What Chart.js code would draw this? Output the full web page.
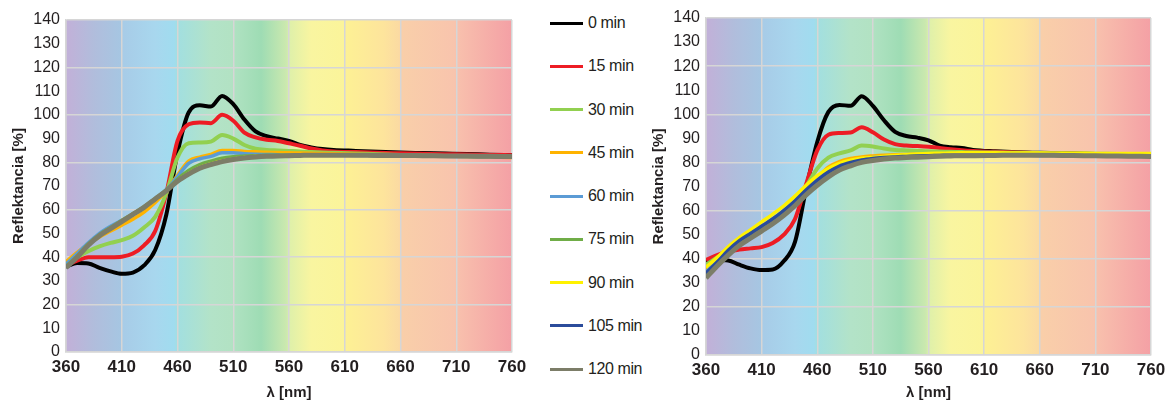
<!DOCTYPE html>
<html>
<head>
<meta charset="utf-8">
<script src="https://cdn.jsdelivr.net/npm/chart.js@4.4.1/dist/chart.umd.min.js"></script>
<style>
  body { margin: 0; background: #fff; font-family: "Liberation Sans", Arial, sans-serif; }
  #wrap { position: relative; width: 1166px; height: 404px; overflow: hidden; }
  .box { position: absolute; top: 0; height: 404px; }
  #left-box { left: 0; width: 530px; }
  #right-box { left: 640px; width: 526px; }
  #legend { position: absolute; left: 550px; top: 0; width: 110px; height: 404px; }
  .item { position: absolute; left: 0; height: 20px; display: flex; align-items: center; white-space: nowrap; font-size: 16px; color: #231f20; letter-spacing: -0.4px; }
  .swatch { width: 33px; height: 3px; margin-right: 5px; }
</style>
</head>
<body>
<div id="wrap">
  <div class="box" id="left-box"><canvas id="left-chart"></canvas></div>
  <div id="legend"></div>
  <div class="box" id="right-box"><canvas id="right-chart"></canvas></div>
</div>
<script>
// Wavelengths (nm)
const wavelengths = [360, 370, 380, 390, 400, 410, 420, 430, 440, 450, 460, 470, 480, 490, 500, 510, 520, 530, 540, 550, 560, 570, 580, 590, 600, 620, 640, 660, 680, 700, 720, 740, 760];

const seriesNames = ['0 min', '15 min', '30 min', '45 min', '60 min', '75 min', '90 min', '105 min', '120 min'];
const seriesColors = ['#000000', '#ed1c24', '#92d050', '#ffb300', '#5b9bd5', '#70ad47', '#fff200', '#2b4c9b', '#7c7d68'];
const seriesWidths = [4, 4, 4, 3.5, 3.5, 3.5, 3.5, 3.5, 5];

// Left chart - reflectance [%]
const left0 = [36, 37.5, 37.3, 35.5, 34, 33, 33.5, 36.5, 43, 58, 84, 101, 104, 103.5, 108, 104.5, 98, 93, 91, 90, 89, 87.3, 86.3, 85.6, 85.2, 84.8, 84.4, 84.1, 83.9, 83.7, 83.5, 83.2, 83];
const left15 = [36.5, 38.5, 40, 40, 40, 40.2, 41.5, 45, 51, 67, 89, 96, 96.8, 96.5, 100, 97.5, 92.5, 90.5, 89.5, 89, 88, 87, 85.8, 85, 84.6, 84.3, 84, 83.8, 83.6, 83.4, 83.3, 83.1, 83];
const left30 = [37.5, 40, 42.5, 44.5, 46, 47.2, 49, 52.5, 57, 67, 82, 88, 88.3, 88.7, 91.5, 90, 87.3, 85.7, 85.2, 85, 84.8, 84.6, 84.3, 84.1, 84, 83.7, 83.4, 83.1, 82.9, 82.7, 82.5, 82.3, 82.2];
const left45 = [38, 42, 45.5, 48.5, 51, 53.5, 56, 59, 63, 68, 74.5, 80.5, 82.2, 83.3, 85, 85, 84.6, 84.4, 84.2, 84.1, 84, 83.9, 83.8, 83.7, 83.6, 83.4, 83.2, 83, 82.8, 82.6, 82.4, 82.2, 82];
const left60 = [37, 41.5, 46, 50, 53, 55.5, 58, 61, 64.5, 68.5, 74, 79.5, 81.5, 82.5, 84, 84, 83.6, 83.4, 83.3, 83.2, 83.2, 83.1, 83.1, 83, 83, 82.9, 82.8, 82.7, 82.6, 82.5, 82.4, 82.3, 82.2];
const left75 = [36, 40.5, 45.5, 49.5, 52.5, 55.5, 58.3, 61.3, 64.7, 68.3, 72.8, 76.5, 79, 80.5, 81.7, 82.3, 82.6, 82.8, 83, 83, 83.1, 83.1, 83.2, 83.2, 83.2, 83.1, 83, 82.9, 82.8, 82.7, 82.6, 82.5, 82.4];
const left90 = [35.8, 40.2, 45.2, 49.2, 52.2, 55.2, 58.2, 61.2, 64.6, 68.1, 72.2, 75.3, 77.8, 79.3, 80.6, 81.4, 82, 82.4, 82.6, 82.8, 83, 83.1, 83.1, 83.1, 83.1, 83, 83, 82.9, 82.8, 82.7, 82.6, 82.5, 82.4];
const left105 = [35.6, 40.1, 45.1, 49.1, 52.1, 55.1, 58.1, 61.1, 64.5, 68, 72.1, 75.1, 77.6, 79.1, 80.4, 81.3, 81.9, 82.3, 82.6, 82.7, 82.9, 83, 83, 83, 83, 83, 82.9, 82.9, 82.8, 82.7, 82.6, 82.5, 82.4];
const left120 = [35.5, 40, 45, 49, 52, 55, 58, 61, 64.5, 68, 72, 75, 77.5, 79, 80.3, 81.2, 81.8, 82.2, 82.5, 82.7, 82.8, 82.9, 83, 83, 83, 83, 82.9, 82.9, 82.8, 82.7, 82.6, 82.5, 82.4];

// Right chart - reflectance [%]
const right0 = [39, 39.5, 39.3, 37.5, 36, 35.3, 35.5, 39, 47, 69, 88.5, 101, 103.9, 103.5, 107.5, 103.5, 97.5, 92.7, 91, 90.3, 89.2, 87, 86.3, 86, 85.2, 84.6, 84.2, 84, 83.8, 83.6, 83.4, 83.2, 83];
const right15 = [39.5, 41.5, 43, 43.8, 44.3, 44.8, 46.5, 50, 56.5, 71, 85, 91.5, 92.2, 92.4, 94.6, 92.5, 89.5, 87.6, 87, 86.8, 86.5, 86, 85.5, 85.1, 84.8, 84.4, 84.1, 83.9, 83.7, 83.5, 83.3, 83.2, 83];
const right30 = [37.5, 40.5, 43.5, 46.5, 49.5, 52.5, 55.5, 59, 63.5, 70, 77.5, 82, 83.8, 85, 87, 86.6, 85.8, 85.2, 85, 84.8, 84.6, 84.5, 84.4, 84.3, 84.2, 84.1, 84, 83.9, 83.8, 83.7, 83.6, 83.5, 83.4];
const right45 = [35.5, 39.5, 43.5, 47, 50.5, 53.5, 56.5, 60, 64, 68.5, 73.5, 78, 80.3, 81.6, 82.3, 82.7, 83, 83.2, 83.3, 83.4, 83.5, 83.6, 83.6, 83.7, 83.7, 83.7, 83.7, 83.7, 83.6, 83.6, 83.5, 83.5, 83.5];
const right60 = [34.5, 39, 43.5, 47.3, 50.5, 53.5, 56.5, 60, 64, 68.3, 72.8, 76.5, 79, 80.5, 81.4, 82, 82.3, 82.6, 82.8, 83, 83.1, 83.1, 83.2, 83.2, 83.2, 83.2, 83.2, 83.1, 83.1, 83, 83, 82.9, 82.9];
const right75 = [33.5, 38.5, 43, 47, 50, 53, 56, 59.5, 63.5, 67.8, 72, 75.6, 78.2, 79.8, 80.8, 81.5, 82, 82.3, 82.5, 82.7, 82.8, 82.9, 83, 83, 83, 83, 83, 83, 82.9, 82.9, 82.8, 82.8, 82.7];
const right90 = [36.5, 40.5, 45, 48.8, 52, 55.3, 58.5, 62, 66, 70.5, 74.5, 77.5, 79.6, 80.9, 81.7, 82.1, 82.5, 82.9, 83.2, 83.5, 83.7, 83.8, 83.9, 84, 84, 84, 83.9, 83.9, 83.8, 83.8, 83.7, 83.7, 83.7];
const right105 = [34, 38.5, 43.5, 47.5, 50.5, 53.5, 56.5, 60, 64, 68.5, 72.5, 76, 78.5, 80, 81, 81.6, 82, 82.3, 82.5, 82.7, 82.8, 82.9, 83, 83, 83, 83, 83, 82.9, 82.9, 82.8, 82.8, 82.8, 82.8];
const right120 = [32, 37, 41.5, 45.5, 48.5, 51.5, 54.5, 58, 62, 66.5, 70.5, 74, 76.8, 78.6, 80, 80.8, 81.4, 81.8, 82, 82.2, 82.4, 82.6, 82.7, 82.8, 82.8, 82.9, 83, 83, 82.9, 82.8, 82.7, 82.6, 82.5];

const leftSeries = [left0, left15, left30, left45, left60, left75, left90, left105, left120];
const rightSeries = [right0, right15, right30, right45, right60, right75, right90, right105, right120];

// Spectrum colours behind the plot, by wavelength
const spectrumStops = [
    [360, '#c2b0d8'], [385, '#b1bddc'], [409, '#a6c6e2'],
    [410, '#a7cbe7'], [440, '#a8d7ee'], [457, '#a0dcef'],
    [460, '#a2dfe0'], [490, '#b3e3c8'], [509, '#b2e2c3'],
    [510, '#b0e2c2'], [535, '#9edcb4'], [558, '#cce9ae'],
    [560, '#def0aa'], [580, '#f9f5a0'], [609, '#fbf49a'],
    [610, '#fdf194'], [645, '#fde49c'], [659, '#fbdaa2'],
    [660, '#f9cfa9'], [709, '#f8c4ad'],
    [710, '#f8c1ad'], [760, '#f4a0a5']
];

Chart.defaults.font.family = '"Liberation Sans", Arial, sans-serif';
Chart.defaults.color = '#231f20';

const spectrumBackground = {
    id: 'spectrumBackground',
    beforeDraw(chart) {
        const { ctx, chartArea } = chart;
        const x = chart.scales.x;
        const w = chartArea.right - chartArea.left;
        const grad = ctx.createLinearGradient(chartArea.left, 0, chartArea.right, 0);
        spectrumStops.forEach(([nm, color]) => {
            const pos = (x.getPixelForValue(nm) - chartArea.left) / w;
            grad.addColorStop(Math.min(1, Math.max(0, pos)), color);
        });
        ctx.save();
        ctx.fillStyle = grad;
        ctx.fillRect(chartArea.left, chartArea.top, w, chartArea.bottom - chartArea.top);
        ctx.restore();
    }
};

function createChart(canvasId, seriesValues, padding, xAxisHeight) {
    const ctx = document.getElementById(canvasId).getContext('2d');
    const datasets = seriesValues.map((values, i) => ({
        label: seriesNames[i],
        data: values.map((v, j) => ({ x: wavelengths[j], y: v })),
        borderColor: seriesColors[i],
        backgroundColor: seriesColors[i],
        borderWidth: seriesWidths[i],
        pointRadius: 0,
        cubicInterpolationMode: 'monotone',
        order: seriesValues.length - i
    }));

    return new Chart(ctx, {
        type: 'line',
        data: { datasets },
        options: {
            responsive: true,
            maintainAspectRatio: false,
            animation: false,
            layout: { padding },
            plugins: {
                legend: { display: false },
                tooltip: { enabled: false }
            },
            scales: {
                x: {
                    type: 'linear',
                    min: 360,
                    max: 760,
                    afterFit: scale => {
                        scale.height = xAxisHeight;
                        // let layout padding alone decide the plot edges
                        scale.paddingLeft = 0;
                        scale.paddingRight = 0;
                    },
                    ticks: {
                        stepSize: 50,
                        padding: 5,
                        maxRotation: 0,
                        font: { size: 17, weight: 'bold' },
                        color: '#231f20'
                    },
                    grid: { color: '#d6d6d6', lineWidth: 1.5, drawTicks: false },
                    border: { color: '#d6d6d6', width: 1.5 },
                    title: {
                        display: true,
                        text: 'λ [nm]',
                        font: { size: 15, weight: 'bold' },
                        color: '#231f20',
                        padding: { top: 2, bottom: 2 }
                    }
                },
                y: {
                    min: 0,
                    max: 140,
                    afterFit: scale => {
                        scale.width = 66;
                        scale.paddingTop = 0;
                        scale.paddingBottom = 0;
                    },
                    ticks: {
                        stepSize: 10,
                        padding: 6,
                        font: { size: 16 },
                        color: '#231f20'
                    },
                    grid: {
                        color: c => (c.tick && c.tick.value % 20 === 0) ? '#d6d6d6' : 'rgba(0,0,0,0)',
                        lineWidth: 1.5,
                        drawTicks: false
                    },
                    border: { color: '#d6d6d6', width: 1.5 },
                    title: {
                        display: true,
                        text: 'Reflektancia [%]',
                        font: { size: 15, weight: 'bold' },
                        color: '#231f20',
                        padding: { top: 10, bottom: 0 }
                    }
                }
            }
        },
        plugins: [spectrumBackground]
    });
}

// Shared legend between the two charts
function buildLegend() {
    const legend = document.getElementById('legend');
    seriesNames.forEach((name, i) => {
        const item = document.createElement('div');
        item.className = 'item';
        item.style.top = (13 + i * 43.25) + 'px';
        const swatch = document.createElement('span');
        swatch.className = 'swatch';
        swatch.style.background = seriesColors[i];
        const label = document.createElement('span');
        label.textContent = name;
        item.appendChild(swatch);
        item.appendChild(label);
        legend.appendChild(item);
    });
}

buildLegend();
createChart('left-chart', leftSeries, { top: 20, right: 18, bottom: 0, left: 0 }, 52);
createChart('right-chart', rightSeries, { top: 18, right: 15, bottom: 0, left: 0 }, 49);
</script>
</body>
</html>
